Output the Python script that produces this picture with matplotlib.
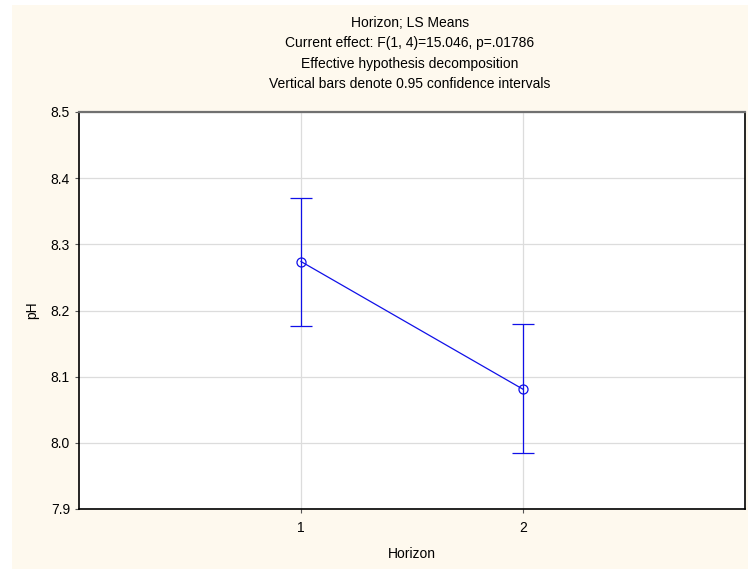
import numpy as np
import matplotlib.pyplot as plt
from matplotlib.patches import Rectangle

# --- data ---
horizon = [1, 2]
ls_means = [8.274, 8.081]
ci_upper = [8.370, 8.179]
ci_lower = [8.177, 7.985]
y_ticks = [7.9, 8.0, 8.1, 8.2, 8.3, 8.4, 8.5]
title_lines = [
    "Horizon; LS Means",
    "Current effect: F(1, 4)=15.046, p=.01786",
    "Effective hypothesis decomposition",
    "Vertical bars denote 0.95 confidence intervals",
]

plt.rcParams['font.family'] = ['Liberation Sans', 'DejaVu Sans']

fig = plt.figure(figsize=(7.48, 5.69), dpi=100)
fig.patch.set_facecolor('white')
# cream panel behind everything
fig.patches.append(Rectangle((12 / 748, 0), 1 - 12 / 748, 1 - 5 / 569,
                             transform=fig.transFigure, facecolor='#FEF9EE',
                             edgecolor='none', zorder=-1))

ax = fig.add_axes([79 / 748, 1 - 509 / 569, 666 / 748, 397 / 569])
ax.set_facecolor('white')

means = np.array(ls_means)
yerr = [means - np.array(ci_lower), np.array(ci_upper) - means]
ax.errorbar(horizon, means, yerr=yerr, color='#1010E8', lw=0.9,
            marker='o', mfc='none', mec='#1010E8', ms=6.5, mew=0.9,
            capsize=8, capthick=0.9, ecolor='#1010E8', zorder=3)

ax.set_xlim(0, 3)
ax.set_ylim(7.9, 8.5)
ax.set_xticks(horizon)
ax.set_yticks(y_ticks)
ax.set_yticklabels([f"{t:.1f}" for t in y_ticks])
ax.grid(True, color='#DCDCDC', lw=0.9)
ax.set_axisbelow(True)
ax.tick_params(axis='both', labelsize=10, length=3, width=0.8, color='#555555')
ax.tick_params(axis='x', pad=6)

for side in ['left', 'right', 'bottom']:
    ax.spines[side].set_color('black')
    ax.spines[side].set_linewidth(1.2)
ax.spines['top'].set_color('#707070')
ax.spines['top'].set_linewidth(1.6)

ax.set_xlabel("Horizon", fontsize=10, labelpad=8)
ax.set_ylabel("pH", fontsize=10, labelpad=8)

for i, line in enumerate(title_lines):
    fig.text(410 / 748, 1 - (23 + 20.5 * i) / 569, line, ha='center',
             va='center', fontsize=10)

fig.savefig("out.png", dpi=100)
